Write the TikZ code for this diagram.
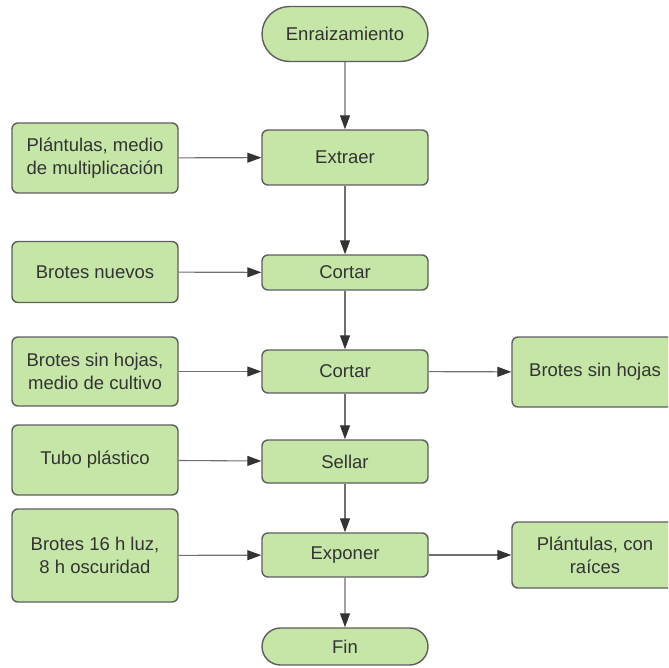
\documentclass[tikz,border=0pt]{standalone}
\usepackage{fontspec}
\setmainfont{Liberation Sans}
\usetikzlibrary{arrows.meta, shapes.misc}

\definecolor{boxfill}{HTML}{C6E6A8}
\definecolor{boxline}{HTML}{5E5E5E}
\definecolor{flowline}{HTML}{707070}
\definecolor{tipcolor}{HTML}{333333}
\definecolor{textcolor}{HTML}{333333}

\tikzset{
  box/.style = {draw = boxline, fill = boxfill, line width = 0.7pt, rounded corners = 3pt,
    minimum width = 83pt, inner sep = 0pt, align = center, text = textcolor},
  terminal/.style = {draw = boxline, fill = boxfill, line width = 0.7pt, rounded rectangle,
    minimum width = 83pt, inner sep = 0pt, align = center, text = textcolor},
  flow/.style = {draw = flowline, line width = 0.55pt,
    -{Triangle[length = 7pt, width = 5pt, color = tipcolor]}}
}

\begin{document}
\begin{tikzpicture}[x = 0.5pt, y = -0.5pt, font = \fontsize{9.25}{11.3}\selectfont]
    \useasboundingbox (0, 0) rectangle (668, 668);
    \clip (0, 0) rectangle (668, 668);
    \node[terminal, minimum height = 27.5pt] (enraizamiento) at (345, 34) {Enraizamiento};
    \node[box, minimum height = 27.5pt] (extraer) at (345, 157.5) {Extraer};
    \node[box, minimum height = 35pt] (plantulas medio) at (95, 158) {Plántulas, medio \\ de multiplicación};
    \draw[flow] (enraizamiento) -- (extraer);
    \draw[flow] (plantulas medio) -- (extraer);
    \node[box, minimum height = 30.5pt] (brotes nuevos) at (95, 272) {Brotes nuevos};
    \node[box, minimum height = 17.5pt] (cortar brotes) at (345, 272.5) {Cortar};
    \draw[flow] (extraer) -- (cortar brotes);
    \draw[flow] (brotes nuevos) -- (cortar brotes);
    \node[box, minimum height = 34.5pt] (brotes medio) at (95, 371.5) {Brotes sin hojas, \\ medio de cultivo};
    \node[box, minimum height = 21.5pt] (cortar hojas) at (345, 371.5) {Cortar};
    \node[box, minimum height = 35pt] (brotes sin hojas) at (595, 372) {Brotes sin hojas};
    \draw[flow] (cortar brotes) -- (cortar hojas);
    \draw[flow] (brotes medio) -- (cortar hojas);
    \draw[flow] (cortar hojas) -- (brotes sin hojas);
    \node[box, minimum height = 35pt] (tubo plastico) at (95, 460) {Tubo plástico};
    \node[box, minimum height = 21.5pt] (sellar) at (345, 461.5) {Sellar};
    \draw[flow] (cortar hojas) -- (sellar);
    \draw[flow] (tubo plastico) -- (sellar);
    \node[box, minimum height = 46.5pt] (brotes luz) at (95, 555.5) {Brotes 16 h luz, \\ 8 h oscuridad};
    \node[box, minimum height = 22pt] (exponer) at (345, 555) {Exponer};
    \node[box, minimum height = 33pt] (plantulas raices) at (595, 555) {Plántulas, con \\ raíces};
    \draw[flow] (sellar) -- (exponer);
    \draw[flow] (brotes luz) -- (exponer);
    \draw[flow] (exponer) -- (plantulas raices);
    \node[terminal, minimum height = 18.5pt] (fin) at (345, 646.5) {Fin};
    \draw[flow] (exponer) -- (fin);
\end{tikzpicture}
\end{document}
